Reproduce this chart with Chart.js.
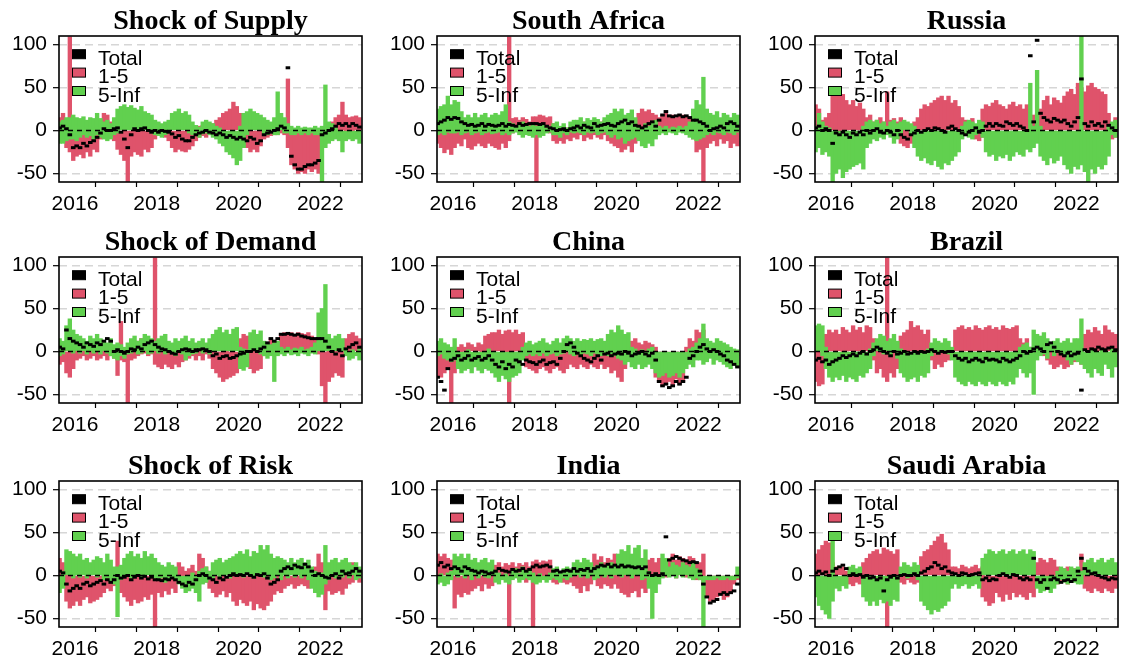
<!DOCTYPE html>
<html>
<head>
<meta charset="utf-8">
<script src="https://cdn.jsdelivr.net/npm/chart.js@4.4.0/dist/chart.umd.min.js"></script>
<style>
    html, body { margin: 0; padding: 0; background: #fff; }
    #wrap { position: relative; width: 1126px; height: 664px; overflow: hidden; }
    .cell { position: absolute; width: 378px; height: 219px; }
</style>
</head>
<body>
<div id="wrap"></div>
<script>
// Months Aug 2015 .. Dec 2022 (monthly envelopes)
const FIRST_YEAR = 2015;
const FIRST_MONTH = 8;
const N_MONTHS = 89;

const year_ticks = [2016, 2017, 2018, 2019, 2020, 2021, 2022];
const y_ticks = [-50, 0, 50, 100];
const titles = ["Shock of Supply", "South Africa", "Russia", "Shock of Demand", "China", "Brazil", "Shock of Risk", "India", "Saudi Arabia"];
const legend_labels = ["Total", "1-5", "5-Inf"];

// ---- Shock of Supply
const supply_s_hi = [15,20,10,109,5, 0,0,0,0,0,0,5,8,20,18,10,5, 0,0,0,0,0,0,0,0,0,0,0,3, 3,5,3,0,0,0,0,0,0,0,0,0, 5,6,3,5,8,12,15,20,22,25,33,28, 20,5,0,0,0,0,0,3,5,5,3,5, 8,10,60,0,0,0,0,0,0,0,0,0, 0,0,5,10,15,18,33,18,15,16,17,15];
const supply_s_lo = [-5,-10,-20,-25,-35, -30,-28,-32,-25,-30,-22,-25,-10,-8,-5,-8,-12, -22,-28,-35,-60,-30,-25,-28,-30,-22,-25,-20,-10, -5,-5,-8,-12,-20,-25,-22,-24,-25,-22,-18,-12, -8,-6,-8,-5,-4,-2,0,0,0,0,0,0, -5,-15,-20,-25,-22,-25,-18,-10,-8,-6,-5,-5, -3,-5,-20,-40,-45,-50,-48,-50,-45,-48,-45,-50, -12,-15,-10,-5,-3,-2,0,-3,0,-2,0,0];
const supply_l_hi = [10,12,15,15,18, 15,14,16,12,15,14,20,14,10,12,8,15, 25,28,30,27,29,26,24,28,22,20,18,12, 10,8,10,12,20,22,25,20,22,18,10,6, 4,10,12,10,8,5,3,0,0,0,0,0, 5,20,22,25,22,20,18,15,12,10,15,45, 20,15,8,5,3,5,3,4,3,3,5,3, 5,53,10,8,3,0,0,0,0,0,0,0];
const supply_l_lo = [-15,-15,-12,-10,-10, -12,-8,-5,-8,-6,-10,-5,-8,-10,-12,-10,-5, -3,0,0,0,0,0,0,0,0,0,-3,-5, -6,-8,-5,-3,0,0,0,0,0,-3,-5,-5, -8,-4,-3,-5,-8,-10,-15,-18,-25,-28,-32,-40, -35,-20,-5,0,0,0,0,-5,-5,-3,-5,-5, 0,-3,-3,-5,-5,-3,-5,-3,-5,-3,-5,-5, -60,-20,-15,-12,-10,-12,-25,-12,-10,-12,-10,-15];
const supply_total = [3,5,2,-5,-20, -18,-20,-15,-18,-14,-12,-8,-3,2,0,0,2, 3,-2,-10,-20,-5,2,0,2,3,0,-2,0, -2,0,-1,-2,-4,-8,-6,-10,-12,-12,-8,-5, -3,-2,0,-2,-3,-5,-3,-5,-8,-6,-8,-10, -8,-10,-12,-8,-10,-15,-12,-5,-3,-2,0,2, 5,3,73,-30,-40,-45,-45,-42,-40,-40,-38,-35, -5,-3,0,2,5,8,6,8,5,8,6,4];

// ---- South Africa
const sa_s_hi = [5,3,5,2,3, 5,3,2,5,3,2,5,4,3,5,3,5, 3,2,5,5,109,14,15,12,15,13,10,16, 16,18,17,15,16,8,3,2,2,3,2,4, 8,5,10,8,10,12,8,10,12,10,5,3, 2,3,0,2,3,5,20,25,22,24,20,18, 15,18,20,16,18,15,17,18,16,15,5,3, 2,0,0,3,2,5,3,4,2,5,3,2];
const sa_s_lo = [-15,-20,-26,-22,-28, -20,-15,-18,-10,-20,-22,-18,-15,-18,-20,-15,-18, -20,-22,-15,-20,-12,-3,0,-2,0,-3,0,0, -60,0,-2,0,-3,-12,-15,-12,-15,-10,-12,-8, -10,-5,-12,-8,-10,-5,-8,-10,-5,-12,-15,-18, -20,-25,-22,-18,-25,-15,-5,-3,0,-2,0,-3, 0,0,0,0,0,-2,0,0,0,-3,-10,-25, -22,-60,-20,-15,-12,-18,-10,-15,-12,-20,-15,-18];
const sa_l_hi = [25,28,30,40,30, 35,33,22,15,18,15,20,15,18,20,15,18, 20,18,22,30,10,8,5,8,10,6,5,8, 5,8,6,3,5,8,10,5,8,3,10,12, 12,15,10,14,12,15,13,10,15,18,20,25, 22,25,18,20,24,15,5,3,8,5,10,12, 5,3,5,2,4,3,5,3,5,10,25,35, 30,62,25,20,18,22,15,20,18,15,20,18];
const sa_l_lo = [-5,-3,-5,-2,-3, -3,-2,-5,-3,-2,-5,-3,-2,-5,-3,-2,-4, -3,-2,-5,-3,-5,-3,-2,-5,-8,-5,-6,-8, -5,-8,-6,-3,-2,-5,-5,-8,-3,-5,-2,-3, -2,-3,-5,-2,-3,-2,-5,-3,-2,-5,-8,-5, -10,-8,-15,-12,-10,-8,-12,-18,-20,-15,-18,-10, -5,-3,-5,-2,-3,-5,-2,-3,-5,-8,-10,-12, -10,-8,-5,-3,-5,-2,-3,-5,-2,-3,-5,-2];
const sa_total = [8,10,12,15,13, 15,14,10,8,6,7,5,6,8,5,7,6, 5,6,8,5,7,6,5,8,6,7,8,8, 8,7,8,5,3,2,0,1,2,0,2,3, 5,3,6,4,3,8,5,6,7,8,6,5, 8,10,12,8,10,6,5,3,5,8,10,5, 12,18,22,17,16,17,18,16,17,15,12,12, 10,8,5,0,2,3,5,3,8,10,8,5];

// ---- Russia
const ru_s_hi = [30,25,12,15,20, 45,40,45,42,35,30,35,28,32,25,15,18, 10,12,15,10,45,12,14,10,15,5,3,2, 10,15,25,30,28,32,35,38,40,35,40,32, 35,28,15,12,10,14,5,3,25,30,28,32, 35,30,28,25,30,33,28,30,25,30,15,18, 20,25,35,40,30,38,35,32,40,45,48,42, 55,50,45,52,55,50,48,45,42,20,3,15];
const ru_s_lo = [0,-3,0,-2,0, 0,0,-2,0,0,0,0,0,0,0,-3,0, -5,0,-3,0,0,-5,-3,0,-15,-18,-20,-15, -10,0,0,0,0,0,0,0,0,0,0,0, 0,0,-3,-5,0,-3,-10,-12,-8,0,0,0, 0,0,0,0,0,0,0,0,0,0,0,0, 0,0,0,0,0,0,0,0,0,0,0,0, 0,0,0,0,0,0,0,0,0,-5,-10,-8];
const ru_l_hi = [5,20,10,5,3, 0,0,0,0,0,0,0,0,0,5,10,12, 10,12,8,10,5,10,12,8,10,12,10,8, 5,0,0,0,0,0,0,0,0,0,0,0, 0,0,5,10,12,10,8,12,10,0,0,0, 0,0,0,0,0,0,0,0,0,0,55,5, 70,5,0,0,0,0,0,0,0,0,0,0, 0,110,0,0,0,0,0,0,0,5,10,12];
const ru_l_lo = [-25,-20,-28,-25,-30, -60,-50,-45,-55,-48,-45,-42,-40,-38,-45,-20,-15, -10,-12,-8,-10,-5,-8,-15,-10,-3,0,0,-5, -20,-30,-35,-32,-38,-40,-35,-42,-45,-38,-40,-35, -30,-25,-10,-5,-8,-10,-5,-3,-8,-25,-30,-28, -35,-30,-32,-28,-35,-30,-25,-28,-30,-22,-25,-20, -15,-30,-35,-40,-32,-38,-35,-30,-40,-45,-50,-42, -45,-40,-48,-60,-45,-50,-42,-45,-40,-30,-5,-8];
const ru_total = [3,5,0,2,0, -15,-3,-5,-2,-5,-8,-3,-5,-2,-5,0,-3, 0,2,-2,-3,0,-2,-5,0,-5,-8,-10,-5, -3,0,-2,0,2,0,3,2,0,-2,3,5, 2,0,-3,-5,-2,0,3,-2,0,5,8,5, 8,6,5,10,8,6,8,5,3,0,87,10, 105,20,15,12,10,14,12,10,12,8,5,10, 15,60,8,5,10,6,8,5,10,6,3,0];

// ---- Shock of Demand
const demand_s_hi = [3,2,0,2,0, 3,5,2,3,5,2,3,5,2,3,5,2, 3,35,0,2,5,10,12,15,10,14,12,109, 5,3,2,0,3,5,2,3,8,10,5,8, 10,5,8,3,2,0,0,0,2,0,0,0, 15,20,18,5,3,2,0,3,10,15,12,10, 20,22,21,22,20,22,21,20,22,18,15,15, 5,0,2,0,3,0,5,15,20,22,18,15];
const demand_s_lo = [-15,-12,-25,-30,-20, -10,-8,-5,-10,-8,-5,-10,-8,-5,-10,-5,-8, -28,-10,-12,-60,-10,-8,-5,-3,-2,-5,-3,-15, -18,-20,-15,-18,-20,-15,-18,-12,-10,-8,-5,-10, -5,-10,-3,-8,-20,-25,-30,-35,-32,-30,-28,-25, 0,0,-5,-20,-25,-22,-20,-5,-3,0,-2,0, 0,0,0,0,0,0,0,0,0,0,0,-3, -40,-60,-35,-30,-25,-28,-30,-5,0,-3,0,-2];
const demand_l_hi = [15,12,30,38,25, 20,18,15,12,18,15,20,15,12,10,15,8, 10,8,5,10,15,18,12,15,20,18,15,12, 15,18,20,12,10,15,12,15,18,12,15,10, 12,15,10,15,20,25,28,22,25,20,26,28, 5,3,2,22,25,20,24,12,10,8,10,12, 5,3,5,2,4,3,5,2,3,5,10,45, 50,78,20,15,18,20,15,3,0,2,0,3];
const demand_l_lo = [-5,-3,0,0,-2, 0,-2,0,-3,0,-2,0,-3,0,-2,-5,-8, -10,-5,-8,-3,-2,0,-3,-2,0,-3,-2,0, -2,0,-3,0,-2,-5,0,-3,-10,-5,-3,-2, 0,-2,0,-3,0,0,0,0,0,0,0,0, -20,-22,-18,0,0,0,-3,-5,-8,-5,-35,-5, -3,-5,-2,-4,-3,-5,-2,-3,-5,-2,-3,0, 0,0,0,0,0,0,0,-5,-10,-8,-5,-10];
const demand_total = [5,3,25,15,12, 10,8,5,10,8,6,10,8,12,15,12,0, 2,0,-2,0,3,2,5,3,8,10,12,8, 5,3,2,0,-2,-3,0,2,3,2,0,2, 2,3,2,0,-5,-3,-8,-6,-5,-8,-7,-5, -3,-2,0,0,2,0,3,5,10,15,12,15, 20,20,21,20,19,20,18,17,16,15,15,15, 15,12,5,0,-3,2,-5,3,5,8,10,5];

// ---- China
const cn_s_hi = [0,0,0,0,0, 3,5,8,5,10,8,5,10,8,18,20,22, 22,25,20,24,25,22,25,20,22,5,3,0, 0,2,0,0,0,3,0,0,2,0,0,3, 0,2,0,3,0,0,2,0,3,5,8,5, 3,5,8,10,12,15,10,8,12,10,8,5, 0,0,0,0,0,0,0,0,5,15,12,25, 22,25,10,5,3,5,2,5,0,2,0,0];
const cn_s_lo = [-30,-30,-25,-20,-60, -25,-10,-5,0,-3,0,-2,0,-3,0,0,0, 0,0,0,-5,-60,-5,0,0,-3,-18,-20,-22, -25,-20,-18,-22,-25,-20,-18,-22,-25,-20,-15,-18, -20,-15,-18,-20,-15,-18,-20,-15,-20,-18,-25,-22, -30,-35,-20,-5,0,-3,0,-5,0,-3,0,-30, -35,-40,-38,-35,-40,-32,-38,-35,-5,0,-3,0, 0,0,-5,-3,-5,0,-3,-5,-8,-5,-3,-5];
const cn_l_hi = [12,15,10,8,5, 15,0,0,0,2,0,0,0,0,0,3,0, 0,0,0,0,0,0,0,0,5,10,12,8, 10,12,15,10,8,12,15,10,15,18,15,12, 15,12,14,13,15,12,14,15,12,20,25,22, 30,25,20,22,5,3,0,2,0,3,5,0, 0,0,0,0,0,0,0,0,0,3,5,10, 15,32,15,12,10,15,12,10,8,5,3,2];
const cn_l_lo = [-5,-3,-8,-10,-12, -10,-20,-25,-22,-20,-25,-18,-22,-25,-20,-22,-25, -30,-35,-28,-32,-35,-30,-28,-25,-10,-5,-3,-5, -3,-5,-2,-5,-3,-2,-5,-3,-2,0,-3,-5, -3,-5,-2,-3,-5,-2,-3,-5,-3,-5,-3,-5, -8,-10,-15,-12,-18,-20,-15,-20,-18,-15,-20,-25, -30,-28,-25,-30,-28,-25,-30,-25,-20,-15,-18,-10, -10,-15,-12,-8,-15,-10,-12,-15,-18,-20,-15,-18];
const cn_total = [-30,-35,-45,-20,-10, -8,-5,-10,-8,-5,-10,-8,-6,-10,-8,-5,-10, -15,-18,-12,-20,-15,-18,-10,-12,-15,-10,-12,-13, -15,-12,-10,-15,-13,-12,-15,-8,0,8,10,5, -2,-5,-8,-10,-12,-8,-5,-10,-3,-2,-5,-3, -2,-3,0,-2,-5,-3,-2,0,-3,-5,-2,-10, -35,-40,-38,-42,-40,-35,-38,-35,-30,-8,-5,0, 5,8,3,0,2,0,-3,-5,-10,-12,-15,-18];

// ---- Brazil
const br_s_hi = [0,0,0,20,25, 22,25,20,28,25,22,30,25,28,22,30,28, 15,5,3,2,109,3,2,5,18,22,25,35, 28,30,25,20,25,8,5,3,2,5,3,2, 25,28,30,26,28,25,30,27,25,28,30,26, 28,25,30,27,26,28,30,15,10,15,5,3, 5,3,8,5,3,2,0,0,3,2,0,5, 3,5,20,25,22,28,24,20,30,25,22,20];
const br_s_lo = [-35,-40,-38,-5,0, 0,0,0,-3,0,0,0,0,0,0,0,0, -10,-25,-20,-30,-35,-25,-30,-20,0,0,0,0, 0,0,0,-3,0,-10,-20,-15,-18,-12,-10,-5, 0,0,0,0,0,0,0,0,0,0,0,0, 0,0,0,0,0,0,0,-10,-15,-12,-15,-10, -5,-3,-5,-10,-15,-20,-18,-15,-20,-18,-15,-12, -10,-15,0,0,0,0,0,0,0,0,0,-3];
const br_l_hi = [30,32,30,5,0, 0,0,0,0,0,0,0,0,0,0,0,3, 10,15,20,18,12,15,20,12,3,0,0,0, 0,0,0,0,3,10,15,12,10,15,12,5, 0,0,0,0,0,0,0,0,0,0,0,0, 0,0,0,0,0,0,0,5,8,10,5,25, 20,18,22,15,10,12,15,10,12,15,10,15, 15,38,0,0,3,0,0,2,0,0,3,0];
const br_l_lo = [0,0,-5,-20,-30, -35,-30,-33,-28,-35,-30,-32,-35,-28,-30,-25,-20, -5,0,0,-3,0,-5,0,-8,-25,-30,-35,-32, -30,-35,-28,-30,-25,-5,0,-3,0,0,-3,-10, -30,-35,-38,-40,-35,-38,-40,-35,-38,-40,-35,-38, -40,-35,-38,-40,-35,-38,-30,-20,-25,-30,-25,-50, -10,-5,-3,-8,0,-5,0,-3,-5,-10,-15,-10, -12,-15,-20,-25,-30,-20,-25,-28,-15,-20,-30,-18];
const br_total = [-10,-8,-12,-10,-15, -12,-10,-8,-5,-7,-5,-3,-5,-2,0,-3,0, 2,5,3,0,-2,-5,0,-3,-2,0,-3,-2, 0,-2,0,-1,0,2,0,-2,0,-1,0,0, -5,-8,-10,-8,-12,-10,-8,-10,-12,-8,-10,-9, -10,-12,-8,-10,-12,-10,-8,-5,0,-2,0,3, 5,3,0,8,10,5,0,-3,-5,-2,-5,-3, -2,-45,2,0,3,2,5,3,2,4,5,2];

// ---- Shock of Risk
const risk_s_hi = [20,15,5,0,0, 0,0,0,0,0,0,0,0,3,0,2,0, 40,0,2,0,0,3,0,0,2,0,0,0, 0,3,0,0,2,0,15,10,5,8,12,5, 25,20,10,5,0,0,0,2,0,0,0,0, 0,0,0,0,0,0,0,0,0,0,0,0, 0,0,3,0,2,0,3,0,5,8,10,25, 15,5,0,2,0,3,0,5,10,15,8,5];
const risk_s_lo = [-5,-10,-30,-38,-35, -30,-35,-28,-25,-32,-30,-28,-25,-20,-15,-18,-12, -10,-20,-25,-30,-35,-28,-32,-30,-25,-28,-22,-60, -20,-25,-18,-22,-15,-20,-5,-3,-8,-5,-10,-5, -3,-5,-8,-15,-20,-25,-22,-18,-25,-20,-30,-35, -28,-32,-35,-30,-40,-33,-38,-40,-35,-30,-22,-18, -20,-15,-12,-10,-15,-12,-10,-12,-15,-10,-8,-5, -15,-40,-18,-22,-20,-18,-22,-15,-10,-8,-5,-8];
const risk_l_hi = [0,5,30,28,25, 22,25,18,20,15,18,22,20,15,25,18,10, 10,12,20,25,28,22,25,20,28,22,25,20, 15,12,10,15,12,10,0,0,0,0,3,0, 5,8,10,5,15,18,20,15,18,20,22,25, 28,25,30,22,28,26,35,30,35,25,20,22, 20,18,15,20,15,18,20,15,18,10,5,3, 3,35,15,18,20,15,18,20,15,12,15,10];
const risk_l_lo = [-20,-15,0,0,-3, 0,-2,0,-3,0,0,-2,0,-5,-3,-8,-10, -48,-5,0,0,-3,0,0,-2,0,0,0,-3, -5,-3,-8,-5,-3,-5,-10,-15,-20,-18,-15,-20, -30,-10,-8,-5,-3,0,-2,0,0,-3,0,0, 0,-2,0,0,-3,0,0,-2,0,-5,-3,0, -5,0,-3,0,-2,0,-3,0,-5,-15,-20,-25, -22,-10,-5,0,-3,0,-2,0,-3,0,-5,-3];
const risk_total = [5,3,-10,-18,-15, -12,-15,-10,-8,-12,-10,-8,-6,-10,-5,-8,-5, 0,-3,-2,0,-5,-2,0,-3,-1,-4,-2,-5, -5,-6,-4,-5,-3,-5,-8,-10,-12,-8,-10,-5, 0,2,0,-3,-5,-8,-3,-5,-2,0,2,0, 1,0,2,0,-2,1,0,2,-3,-10,-8,-5, 5,8,10,8,12,10,9,13,10,5,0,2, 0,-2,-3,0,2,-3,5,2,3,5,8,5];

// ---- India
const in_s_hi = [25,22,25,20,18, 0,2,0,3,0,2,0,3,0,2,3,0, 12,15,10,14,12,15,10,14,12,15,10,16, 18,15,17,16,18,3,0,2,0,3,0,2, 5,8,10,5,12,25,18,22,15,20,18,25, 15,10,5,3,8,5,10,3,8,18,20,15, 20,18,15,20,25,18,22,20,18,22,20,15, 15,25,0,0,0,0,0,0,0,0,0,0];
const in_s_lo = [-3,-5,0,-2,-5, -38,-22,-25,-20,-22,-18,-15,-12,-18,-10,-15,-12, -5,-3,-2,-5,-60,-3,0,-5,-2,-8,-5,-60, -2,0,-3,0,-2,-8,-10,-5,-8,-10,-8,-12, -15,-20,-12,-18,-10,-5,-12,-15,-10,-12,-15,-10, -15,-20,-22,-25,-20,-18,-25,-15,-20,-10,-3,0, 0,0,-2,0,0,-3,0,0,-2,0,0,-5, -5,-10,-25,-30,-28,-25,-22,-28,-25,-20,-10,-5];
const in_l_hi = [0,2,0,3,5, 25,22,25,20,25,18,20,15,18,20,15,18, 5,3,0,2,0,5,8,3,10,5,8,3, 0,2,0,0,3,8,10,5,8,10,8,15, 18,15,20,18,15,10,12,15,10,12,15,12, 25,30,28,35,25,32,35,20,30,5,0,3, 0,25,20,10,15,12,10,15,12,10,15,8, 5,0,0,0,0,0,0,0,0,0,0,10];
const in_l_lo = [-10,-8,-12,-10,-5, 0,-2,0,-3,0,-5,0,-3,0,-2,-3,0, -8,-10,-5,-8,-10,-5,-3,-8,-5,-3,-5,-8, -10,-8,-5,-8,-5,-3,-5,-8,-3,-5,-2,0, 0,-2,0,-3,0,-5,-3,0,-2,0,-3,0, 0,-2,0,0,-3,0,0,-5,-3,-15,-50,-20, -10,-3,0,-2,0,-3,0,-2,0,-3,-5,-3, -5,-60,-5,-5,-5,-3,-5,-5,-3,-5,-5,-3];
const in_total = [12,15,10,12,8, 10,8,5,10,8,6,5,3,5,4,2,3, 5,8,6,5,4,7,5,6,8,5,7,10, 12,10,11,12,10,5,6,4,5,6,5,8, 5,7,6,8,5,8,10,12,11,13,10,12, 10,12,10,11,10,9,10,8,10,3,0,2, 0,2,45,18,20,22,20,18,17,15,16,15, 5,-10,-25,-32,-30,-28,-22,-20,-22,-20,-18,-10];

// ---- Saudi Arabia
const sd_s_hi = [25,30,35,40,38, 15,10,8,10,5,3,0,2,0,15,20,25, 28,30,25,32,30,28,25,30,5,3,0,2, 0,3,22,28,30,35,40,45,48,38,30,10, 10,8,12,10,8,10,12,8,10,0,0,0, 0,0,0,0,0,0,0,0,0,0,0,0, 15,20,18,15,20,18,10,5,8,10,5,8, 5,25,3,0,2,0,3,0,2,0,0,2];
const sd_s_lo = [0,0,0,0,0, 0,0,0,0,0,-10,-12,-8,-10,0,0,0, 0,0,0,0,-60,0,0,0,-8,-10,-5,-8, -10,-8,0,0,0,0,0,0,0,0,0,0, 0,0,0,0,0,0,0,0,-25,-30,-35,-32, -20,-25,-30,-22,-28,-20,-25,-22,-25,-28,-20,-25, 0,0,0,-3,0,-2,-10,-8,-5,-10,-8,-5, -3,0,-15,-18,-20,-15,-18,-20,-15,-18,-20,-15];
const sd_l_hi = [0,0,0,0,0, 45,0,0,0,0,10,12,8,10,0,0,0, 0,0,0,0,0,0,0,0,10,15,12,10, 15,12,0,0,0,0,0,0,0,0,0,0, 0,0,0,0,0,0,0,0,20,25,30,28, 25,28,30,25,28,30,25,28,30,25,30,28, 0,0,0,0,0,0,5,10,8,5,10,8, 10,5,15,18,20,15,18,20,15,18,20,15];
const sd_l_lo = [-25,-35,-40,-45,-50, -30,-15,-18,-12,-15,0,0,0,0,-25,-30,-35, -30,-35,-28,-32,-30,-35,-28,-30,0,0,-3,0, 0,-5,-30,-35,-40,-45,-40,-42,-38,-35,-30,-15, -10,-15,-12,-10,-15,-12,-10,-15,0,0,0,0, 0,0,0,0,0,0,0,0,0,0,0,0, -15,-20,-18,-15,-20,-15,-10,-5,-8,-10,-5,-8, -10,-10,0,0,0,0,0,0,0,0,0,0];
const sd_total = [3,5,2,4,0, 5,8,10,12,8,0,2,0,1,-2,0,-3, -2,-5,-3,-18,-5,-2,0,-3,0,1,0,0, 2,0,3,5,8,10,15,12,8,10,5,3, 2,0,3,2,0,1,2,3,-5,-3,-6,-4, -5,0,2,0,-2,1,0,-3,-5,-3,-5,20, -5,-8,-5,-15,-5,-3,-5,-8,-6,-5,-7,-5, 5,20,8,5,2,3,0,-2,-3,-5,-3,-4];

const RED = "#DF536B";
const GREEN = "#61D04F";

const panels = [
    { total: supply_total, s_hi: supply_s_hi, s_lo: supply_s_lo, l_hi: supply_l_hi, l_lo: supply_l_lo },
    { total: sa_total, s_hi: sa_s_hi, s_lo: sa_s_lo, l_hi: sa_l_hi, l_lo: sa_l_lo },
    { total: ru_total, s_hi: ru_s_hi, s_lo: ru_s_lo, l_hi: ru_l_hi, l_lo: ru_l_lo },
    { total: demand_total, s_hi: demand_s_hi, s_lo: demand_s_lo, l_hi: demand_l_hi, l_lo: demand_l_lo },
    { total: cn_total, s_hi: cn_s_hi, s_lo: cn_s_lo, l_hi: cn_l_hi, l_lo: cn_l_lo },
    { total: br_total, s_hi: br_s_hi, s_lo: br_s_lo, l_hi: br_l_hi, l_lo: br_l_lo },
    { total: risk_total, s_hi: risk_s_hi, s_lo: risk_s_lo, l_hi: risk_l_hi, l_lo: risk_l_lo },
    { total: in_total, s_hi: in_s_hi, s_lo: in_s_lo, l_hi: in_l_hi, l_lo: in_l_lo },
    { total: sd_total, s_hi: sd_s_hi, s_lo: sd_s_lo, l_hi: sd_l_hi, l_lo: sd_l_lo }
];

// month centres as fractional years
const months = [];
for (let i = 0; i < N_MONTHS; i++) {
    months.push(FIRST_YEAR + (FIRST_MONTH - 1 + i + 0.5) / 12);
}

const ROW_TOP = [0, 221, 445];
const COL_LEFT = [0, 378, 756];
const FONT = "'Liberation Sans', Arial, sans-serif";

// zero line, frame, legend and title on top of the bars
const panelDecor = {
    id: "panelDecor",
    afterDatasetsDraw(chart, args, opts) {
        const ctx = chart.ctx;
        const a = chart.chartArea;
        const y0 = chart.scales.y.getPixelForValue(0);
        ctx.save();

        ctx.strokeStyle = "#000";
        ctx.lineWidth = 1.6;
        ctx.setLineDash([5, 4]);
        ctx.beginPath();
        ctx.moveTo(a.left, y0);
        ctx.lineTo(a.right, y0);
        ctx.stroke();
        ctx.setLineDash([]);

        ctx.lineWidth = 1.6;
        ctx.strokeRect(a.left, a.top, a.right - a.left, a.bottom - a.top);

        const colors = ["#000", RED, GREEN];
        ctx.font = "21px " + FONT;
        ctx.textAlign = "left";
        ctx.textBaseline = "alphabetic";
        for (let k = 0; k < 3; k++) {
            const sy = a.top + 13.7 + k * 18.4;
            ctx.fillStyle = colors[k];
            ctx.fillRect(a.left + 13.5, sy, 13, 9);
            ctx.lineWidth = 1;
            ctx.strokeStyle = "#000";
            ctx.strokeRect(a.left + 13.5, sy, 13, 9);
            ctx.fillStyle = "#000";
            ctx.fillText(legend_labels[k], a.left + 39, a.top + 28.7 + k * 18.6);
        }

        ctx.font = "bold 28px 'Liberation Serif', 'Times New Roman', serif";
        ctx.textAlign = "center";
        ctx.fillStyle = "#000";
        ctx.fillText(opts.title, (a.left + a.right) / 2, 29.3);
        ctx.restore();
    }
};

function barSet(label, hi, lo, color, order) {
    return {
        label: label,
        data: months.map((x, i) => ({ x: x, y: [lo[i], hi[i]] })),
        backgroundColor: color,
        borderWidth: 0,
        barThickness: 3.7,
        grouped: false,
        order: order
    };
}

function makePanel(k) {
    const p = panels[k];
    const col = k % 3;
    const row = Math.floor(k / 3);

    const cell = document.createElement("div");
    cell.className = "cell";
    cell.style.left = COL_LEFT[col] + "px";
    cell.style.top = ROW_TOP[row] + "px";
    const cv = document.createElement("canvas");
    cv.width = 378;
    cv.height = 219;
    cell.appendChild(cv);
    document.getElementById("wrap").appendChild(cell);

    new Chart(cv, {
        type: "bar",
        data: {
            datasets: [
                {
                    type: "line",
                    label: "Total",
                    data: months.map((x, i) => ({ x: x, y: p.total[i] })),
                    showLine: false,
                    pointStyle: "line",
                    pointRadius: 2.3,
                    pointBorderWidth: 3,
                    pointBorderColor: "#000",
                    pointBackgroundColor: "#000",
                    order: 0
                },
                barSet("5-Inf", p.l_hi, p.l_lo, GREEN, 1),
                barSet("1-5", p.s_hi, p.s_lo, RED, 2)
            ]
        },
        options: {
            responsive: false,
            devicePixelRatio: 1,
            animation: false,
            events: [],
            layout: { padding: { left: 0, top: 36, right: 16, bottom: 0 } },
            plugins: {
                legend: { display: false },
                tooltip: { enabled: false },
                title: { display: false },
                panelDecor: { title: titles[k] }
            },
            scales: {
                x: {
                    type: "linear",
                    min: 2015.61,
                    max: 2023.02,
                    offset: false,
                    afterBuildTicks: (s) => { s.ticks = year_ticks.map(v => ({ value: v })); },
                    afterFit: (s) => { s.height = 37; },
                    ticks: {
                        autoSkip: false,
                        maxRotation: 0,
                        padding: 5,
                        color: "#000",
                        font: { family: FONT, size: 21 },
                        callback: (v) => (v % 2 === 0 ? String(v) : "")
                    },
                    grid: { drawOnChartArea: false, drawTicks: true, tickLength: 5, tickColor: "#000", tickWidth: 1.2 },
                    border: { display: false }
                },
                y: {
                    min: -60,
                    max: 110,
                    afterBuildTicks: (s) => { s.ticks = y_ticks.map(v => ({ value: v })); },
                    afterFit: (s) => { s.width = 59; },
                    ticks: {
                        padding: 6,
                        color: "#000",
                        font: { family: FONT, size: 21 },
                        callback: (v) => String(v)
                    },
                    grid: { color: "#d6d6d6", lineWidth: 1.4, drawTicks: true, tickLength: 6, tickColor: "#000", tickWidth: 1.2 },
                    border: { display: false, dash: [8, 5] }
                }
            }
        },
        plugins: [panelDecor]
    });
}

for (let k = 0; k < 9; k++) makePanel(k);
</script>
</body>
</html>
